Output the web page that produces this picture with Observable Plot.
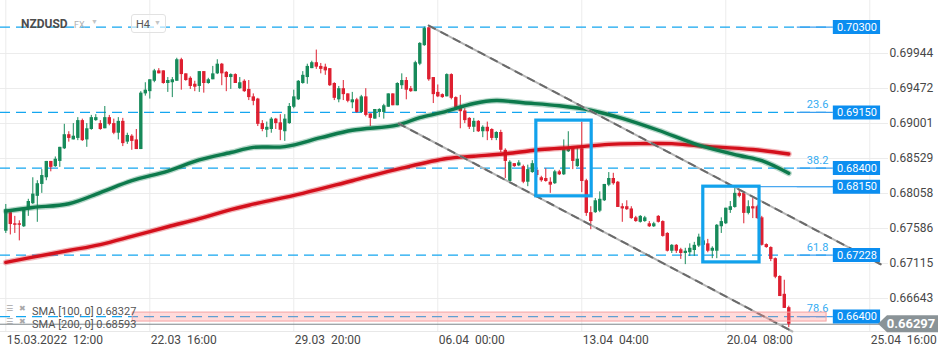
<!DOCTYPE html>
<html><head><meta charset="utf-8">
<script src="https://cdn.jsdelivr.net/npm/d3@7"></script>
<script src="https://cdn.jsdelivr.net/npm/@observablehq/plot@0.6"></script>
<style>
html,body{margin:0;padding:0;background:#fff;}
#chart{position:relative;width:950px;height:358px;overflow:hidden;font-family:Roboto,sans-serif;}
#chart svg{position:absolute;left:0;top:0;}
.ov{position:absolute;white-space:nowrap;line-height:1;}
</style></head><body><div id="chart"></div>
<script>
// ---- data (NZDUSD, H4 candles) ----
const openP = [
.6755,.6780,.6765,.6765,.6761,.6784,.6792,.6802,.6818,.6827,
.6849,.6842,.6849,.6866,.6885,.6878,.6880,.6904,.6878,.6892,
.6904,.6900,.6893,.6908,.6900,.6887,.6903,.6875,.6883,.6878,
.6865,.6940,.6943,.6957,.6971,.6971,.6954,.6955,.6957,.6986,
.6967,.6961,.6953,.6950,.6970,.6954,.6959,.6967,.6980,.6969,
.6962,.6966,.6947,.6957,.6946,.6936,.6933,.6900,.6891,.6892,
.6906,.6901,.6889,.6900,.6922,.6932,.6954,.6962,.6974,.6982,
.6977,.6976,.6974,.6954,.6932,.6947,.6940,.6928,.6932,.6915,
.6936,.6913,.6906,.6915,.6915,.6922,.6940,.6924,.6951,.6958,
.6947,.6943,.6980,.7005,.7029,.6962,.6942,.6939,.6936,.6966,
.6935,.6921,.6917,.6907,.6895,.6903,.6889,.6895,.6892,.6880,
.6888,.6864,.6822,.6846,.6843,.6842,.6821,.6834,.6837,.6827,
.6826,.6821,.6819,.6835,.6831,.6862,.6868,.6842,.6866,.6823,
.6780,.6780,.6782,.6796,.6817,.6826,.6821,.6788,.6788,.6785,
.6773,.6767,.6768,.6765,.6761,.6775,.6768,.6752,.6728,.6736,
.6730,.6725,.6726,.6729,.6735,.6736,.6738,.6728,.6728,.6761,
.6765,.6783,.6787,.6806,.6806,.6779,.6788,.6788,.6773,.6737,
.6733,.6718,.6694,.6670,.6652];
const highP = [
.6791,.6783,.6775,.6769,.6786,.6798,.6827,.6823,.6838,.6849,
.6849,.6855,.6868,.6899,.6889,.6900,.6908,.6906,.6900,.6911,
.6912,.6904,.6923,.6911,.6906,.6908,.6907,.6887,.6885,.6892,
.6943,.6955,.6959,.6973,.6974,.6971,.6962,.6962,.6988,.6988,
.6967,.6963,.6957,.6970,.6970,.6961,.6977,.6986,.6981,.6970,
.6967,.6967,.6962,.6959,.6958,.6940,.6934,.6904,.6902,.6908,
.6907,.6912,.6912,.6927,.6945,.6958,.6970,.6980,.6984,.6999,
.6981,.6980,.6974,.6955,.6950,.6958,.6940,.6942,.6934,.6938,
.6947,.6913,.6919,.6920,.6926,.6940,.6940,.6955,.6967,.6962,
.6950,.6984,.7009,.7030,.7030,.6962,.6952,.6940,.6967,.6967,
.6936,.6938,.6920,.6908,.6907,.6904,.6897,.6902,.6893,.6889,
.6891,.6866,.6850,.6846,.6850,.6844,.6844,.6850,.6839,.6829,
.6839,.6827,.6837,.6837,.6878,.6889,.6868,.6868,.6902,.6825,
.6788,.6799,.6808,.6818,.6834,.6833,.6822,.6792,.6796,.6788,
.6775,.6776,.6775,.6768,.6767,.6776,.6769,.6753,.6737,.6737,
.6732,.6732,.6738,.6740,.6751,.6745,.6744,.6734,.6764,.6773,
.6786,.6795,.6815,.6810,.6806,.6796,.6799,.6790,.6775,.6738,
.6734,.6719,.6695,.6689,.6654];
const lowP = [
.6752,.6750,.6752,.6742,.6760,.6775,.6791,.6767,.6806,.6823,
.6835,.6841,.6841,.6865,.6875,.6878,.6877,.6876,.6868,.6891,
.6903,.6891,.6893,.6897,.6885,.6878,.6869,.6872,.6864,.6865,
.6865,.6937,.6933,.6955,.6967,.6953,.6942,.6935,.6957,.6945,
.6957,.6946,.6943,.6942,.6941,.6953,.6959,.6966,.6951,.6943,
.6946,.6954,.6946,.6942,.6931,.6924,.6896,.6889,.6881,.6887,
.6892,.6877,.6876,.6899,.6920,.6931,.6953,.6953,.6974,.6973,
.6967,.6965,.6950,.6931,.6928,.6931,.6928,.6920,.6914,.6914,
.6909,.6896,.6906,.6908,.6906,.6922,.6924,.6924,.6946,.6932,
.6942,.6943,.6978,.7004,.6957,.6927,.6935,.6934,.6936,.6932,
.6921,.6893,.6900,.6892,.6888,.6888,.6881,.6877,.6877,.6877,
.6861,.6826,.6821,.6841,.6842,.6819,.6815,.6833,.6827,.6821,
.6821,.6806,.6818,.6830,.6830,.6861,.6838,.6841,.6807,.6775,
.6757,.6779,.6780,.6795,.6815,.6817,.6787,.6767,.6783,.6771,
.6767,.6766,.6767,.6760,.6760,.6766,.6747,.6727,.6725,.6725,
.6717,.6710,.6721,.6721,.6733,.6733,.6726,.6718,.6718,.6752,
.6764,.6779,.6786,.6800,.6765,.6777,.6772,.6771,.6735,.6732,
.6714,.6691,.6667,.6651,.6625];
const closeP = [
.6784,.6764,.6763,.6763,.6783,.6795,.6805,.6819,.6830,.6849,
.6841,.6852,.6868,.6885,.6880,.6883,.6904,.6877,.6893,.6908,
.6908,.6892,.6908,.6899,.6887,.6903,.6873,.6884,.6876,.6865,
.6941,.6945,.6959,.6971,.6967,.6954,.6958,.6959,.6986,.6966,
.6958,.6950,.6949,.6970,.6954,.6959,.6967,.6980,.6967,.6962,
.6966,.6954,.6955,.6943,.6935,.6930,.6899,.6892,.6895,.6906,
.6900,.6891,.6906,.6923,.6936,.6957,.6965,.6977,.6982,.6976,
.6973,.6971,.6951,.6934,.6947,.6939,.6930,.6932,.6915,.6936,
.6911,.6907,.6919,.6919,.6924,.6940,.6924,.6954,.6958,.6945,
.6943,.6982,.7008,.7028,.6959,.6939,.6936,.6935,.6966,.6934,
.6921,.6916,.6904,.6895,.6903,.6889,.6895,.6889,.6880,.6888,
.6864,.6849,.6848,.6842,.6847,.6821,.6838,.6846,.6830,.6823,
.6822,.6817,.6835,.6831,.6865,.6866,.6849,.6852,.6822,.6779,
.6768,.6796,.6798,.6818,.6826,.6819,.6787,.6785,.6784,.6772,
.6768,.6775,.6773,.6761,.6765,.6767,.6748,.6728,.6736,.6728,
.6725,.6728,.6732,.6736,.6747,.6742,.6728,.6732,.6763,.6768,
.6786,.6788,.6806,.6802,.6779,.6788,.6785,.6772,.6736,.6733,
.6717,.6693,.6667,.6651,.66297];

const sma100Idx = [0,6,14,21,28,36,43,50,55,62,70,77,87,92,97,104,109,115,123,130,137,145,154,163,168,174];
const sma100Val = [.6782,.6787,.6792,.6807,.6823,.6836,.6851,.6861,.6868,.6869,.6881,.6891,.6898,.6908,.6915,.6927,.6931,.6928,.6924,.6918,.6907,.6891,.6871,.6857,.6850,.6833];
const sma200Idx = [0,6,14,21,28,36,43,50,54,66,77,88,98,104,112,119,126,134,141,148,154,166,174];
const sma200Val = [.6713,.6720,.6729,.6737,.6748,.6761,.6772,.6784,.6790,.6806,.6823,.6840,.6853,.6856,.6860,.6865,.6868,.6872,.6873,.6873,.6870,.6865,.6859];

const fibLevels = [0.70300, 0.69150, 0.68400, 0.67228, 0.66400];
const fibNames  = ["", "23.6", "38.2", "61.8", "78.6"];
const priceLabels = [0.70300, 0.69150, 0.68400, 0.68150, 0.67228, 0.66400];
const lastPrice = 0.66297;
const sma100Last = 0.68327, sma200Last = 0.68593;

const yTicks = [0.69944, 0.69472, 0.69001, 0.68529, 0.68058, 0.67586, 0.67115, 0.66643];
const xTickIdx = [0, 32, 64, 96, 128, 160, 192];
const xTickLabels = ["15.03.2022\u00a0\u00a012:00","22.03\u00a0\u00a016:00","29.03\u00a0\u00a020:00","06.04\u00a0\u00a000:00","13.04\u00a0\u00a004:00","20.04\u00a0\u00a008:00","25.04\u00a0\u00a016:00"];

// channel (bar index, price)
const chanUpperIdx = [94, 194.4], chanUpperVal = [0.70321, 0.67105];
const chanLowerIdx = [87.3, 174.8], chanLowerVal = [0.69001, 0.66199];
// highlight boxes (bar index range, price range)
const boxStartIdx = [117.9, 155.0], boxEndIdx = [130.2, 167.5];
const boxTop = [0.6904, 0.6815], boxBottom = [0.6802, 0.6713];
// support zone
const zoneIdx = [28.2, 182.4], zoneVal = [0.66333, 0.66454];

// ---- layout constants (in bar-index units) ----
const X_LEFT = -1.178, X_RIGHT = 196.16;
const LBL_X1 = 183.9, LBL_X2 = 194.4, LBL_XC = 189.15, FIB_TXT_X = 180.4, DASH_END = 183.3, LEAD_START = 175.9;

const candles = d3.range(openP.length).map(i => ({i, o: openP[i], h: highP[i], l: lowP[i], c: closeP[i]}));
const ups = candles.filter(d => d.c >= d.o), downs = candles.filter(d => d.c < d.o);
const sma100 = sma100Idx.map((i, k) => ({i, v: sma100Val[k]}));
const sma200 = sma200Idx.map((i, k) => ({i, v: sma200Val[k]}));
const chanU = chanUpperIdx.map((i, k) => ({i, v: chanUpperVal[k]}));
const chanL = chanLowerIdx.map((i, k) => ({i, v: chanLowerVal[k]}));
const boxes = [0, 1].map(k => ({x1: boxStartIdx[k], x2: boxEndIdx[k], y1: boxBottom[k], y2: boxTop[k]}));
const fibs = fibLevels.map((v, k) => ({v, name: fibNames[k]}));

const GREEN = "#178a5a", RED = "#de1f30", CYAN = "#14a6f0";

const plot = Plot.plot({
  width: 950, height: 358,
  marginTop: 0, marginLeft: 0, marginRight: 62, marginBottom: 27,
  style: {fontFamily: "Roboto, sans-serif", fontSize: "12px", color: "#474747", background: "transparent", overflow: "visible"},
  x: {type: "linear", domain: [X_LEFT, X_RIGHT], axis: null},
  y: {domain: [0.66199, 0.70658], axis: null},
  marks: [
    Plot.gridY(yTicks, {stroke: "#ececec", strokeOpacity: 1}),
    Plot.gridX(xTickIdx, {stroke: "#ececec", strokeOpacity: 1}),
    Plot.ruleY([0.66199], {stroke: "#e8e8e8"}),
    Plot.axisY(yTicks, {anchor: "right", tickSize: 0, tickPadding: 1, tickFormat: d => d.toFixed(5), fill: "#474747"}),
    Plot.axisX(xTickIdx, {anchor: "bottom", tickSize: 0, tickPadding: 4, tickFormat: d => xTickLabels[xTickIdx.indexOf(d)], textAnchor: "start", dx: 1, fill: "#474747"}),
    // fib dashed levels
    Plot.ruleY(fibs, {y: "v", x1: X_LEFT, x2: DASH_END, stroke: CYAN, strokeWidth: 1.3, strokeDasharray: "10,6"}),
    Plot.ruleY(priceLabels, {x1: LEAD_START, x2: LBL_X1, stroke: "#3a9ff0", strokeWidth: 1.2}),
    Plot.ruleY([0.68150], {x1: 163, x2: LBL_X1, stroke: "#4aa8f0", strokeWidth: 1.4}),
    Plot.text(fibs, {x: FIB_TXT_X, y: "v", text: "name", dy: -8, fill: "#34acf2", fontSize: 11}),
    // current price line
    Plot.ruleY([lastPrice], {x1: X_LEFT, x2: LBL_X2, stroke: "#7c8488", strokeWidth: 1}),
    // candles
    Plot.ruleX(ups, {x: "i", y1: "l", y2: "h", stroke: GREEN, strokeWidth: 1}),
    Plot.ruleX(downs, {x: "i", y1: "l", y2: "h", stroke: RED, strokeWidth: 1}),
    Plot.ruleX(ups, {x: "i", y1: "o", y2: "c", stroke: GREEN, strokeWidth: 3.4}),
    Plot.ruleX(downs, {x: "i", y1: "o", y2: "c", stroke: RED, strokeWidth: 3.4}),
    // SMAs
    Plot.line(sma200, {x: "i", y: "v", stroke: "#d4101c", strokeWidth: 6, strokeOpacity: 0.3, curve: "catmull-rom"}),
    Plot.line(sma200, {x: "i", y: "v", stroke: "#d4101c", strokeWidth: 3.4, curve: "catmull-rom"}),
    Plot.line(sma100, {x: "i", y: "v", stroke: "#0d7a4c", strokeWidth: 6, strokeOpacity: 0.3, curve: "catmull-rom"}),
    Plot.line(sma100, {x: "i", y: "v", stroke: "#0d7a4c", strokeWidth: 3.4, curve: "catmull-rom"}),
    // channel
    Plot.line(chanU, {x: "i", y: "v", stroke: "#b4b4b4", strokeWidth: 2}),
    Plot.line(chanU, {x: "i", y: "v", stroke: "#6a6a6a", strokeWidth: 2, strokeDasharray: "7,7"}),
    Plot.line(chanL, {x: "i", y: "v", stroke: "#b4b4b4", strokeWidth: 2}),
    Plot.line(chanL, {x: "i", y: "v", stroke: "#6a6a6a", strokeWidth: 2, strokeDasharray: "7,7"}),
    // support zone
    Plot.rect([0], {x1: zoneIdx[0], x2: zoneIdx[1], y1: zoneVal[0], y2: zoneVal[1], fill: "#ff8f8f", fillOpacity: 0.32, stroke: "#f4a3a3", strokeWidth: 1}),
    // highlight boxes
    Plot.rect(boxes, {x1: "x1", x2: "x2", y1: "y1", y2: "y2", fill: "none", stroke: "#12a2ec", strokeWidth: 3.2}),
    // price label boxes
    Plot.ruleY(priceLabels, {x1: LBL_X1, x2: LBL_X2, stroke: "#0b8ef0", strokeWidth: 14}),
    Plot.text(priceLabels, {x: LBL_XC, y: d => d, text: d => d.toFixed(5), fill: "white", fontSize: 11})
  ]
});
const chart = document.getElementById("chart");
chart.appendChild(plot);

// current price tag (uses the plot's y scale)
const ySc = plot.scale("y");
const yy = ySc.apply(lastPrice);
const svg = d3.select(plot);
svg.append("path")
  .attr("d", `M878,${yy} L887,${yy - 8.5} L938,${yy - 8.5} L938,${yy + 8.5} L887,${yy + 8.5} Z`)
  .attr("fill", "#8a9397");
svg.append("text").attr("x", 911).attr("y", yy).attr("dy", "0.36em")
  .attr("text-anchor", "middle").attr("fill", "#fff")
  .attr("font-size", 13).attr("font-weight", "bold").attr("font-family", "Roboto, sans-serif")
  .text(lastPrice.toFixed(5));

// header and legend overlays (real text)
function ov(html, style) {
  const d = document.createElement("div");
  d.className = "ov"; d.innerHTML = html; d.setAttribute("style", style);
  chart.appendChild(d);
}
ov("NZDUSD", "left:21px;top:18px;font-size:12px;font-weight:bold;color:#4d4d4d;");
ov("FX", "left:74px;top:21px;font-size:9px;color:#b0b0b0;");
ov("\u25BC", "left:91px;top:19px;font-size:7px;color:#c4c4c4;");
ov("", "left:131px;top:14px;width:33px;height:17px;border:1px solid #e2e2e2;border-radius:3px;background:rgba(255,255,255,0.6);");
ov("H4", "left:136px;top:19px;font-size:11px;color:#555;");
ov("\u25BC", "left:154px;top:20px;font-size:7px;color:#c4c4c4;");
ov("\u2630", "left:6px;top:305px;font-size:8px;color:#a8a8a8;font-family:'DejaVu Sans';");
ov("\u2716", "left:19px;top:305px;font-size:8px;color:#a8a8a8;font-family:'DejaVu Sans';");
ov("SMA [100, 0] " + sma100Last.toFixed(5), "left:32px;top:306px;font-size:11px;color:#555;");
ov("\u2630", "left:6px;top:318px;font-size:8px;color:#a8a8a8;font-family:'DejaVu Sans';");
ov("\u2716", "left:19px;top:318px;font-size:8px;color:#a8a8a8;font-family:'DejaVu Sans';");
ov("SMA [200, 0] " + sma200Last.toFixed(5), "left:32px;top:319px;font-size:11px;color:#555;");
</script>
</body></html>
